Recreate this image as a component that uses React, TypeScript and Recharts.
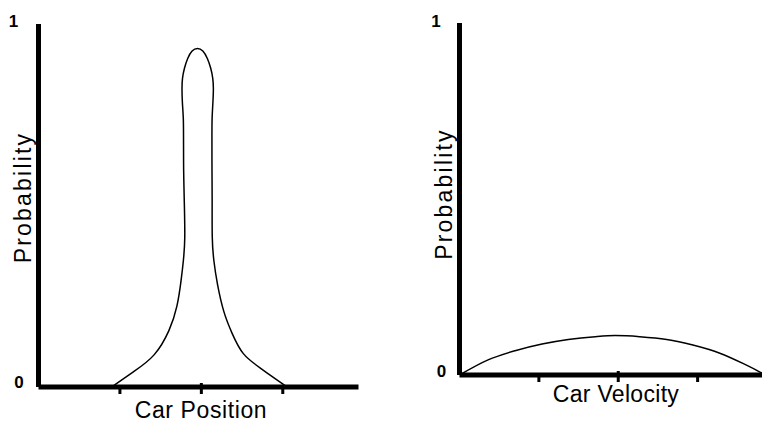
import { LineChart, Line, XAxis, YAxis, Label } from "recharts";

// Car position distribution (left panel), traced as one outline
const positionX = [
  0.9, 1.166, 1.433, 1.617, 1.707, 1.753, 1.781, 1.802, 1.79, 1.781, 1.781, 1.781, 1.765, 1.761, 1.765, 1.79, 1.83, 1.884, 1.953,
  2.02, 2.076, 2.118, 2.143, 2.15, 2.143, 2.13, 2.13, 2.13, 2.134, 2.13, 2.15, 2.192, 2.273, 2.376, 2.499, 2.724, 3.053,
];
const positionP = [
  0, 0.042, 0.083, 0.157, 0.221, 0.295, 0.35, 0.405, 0.515, 0.598, 0.694, 0.74, 0.786, 0.823, 0.85, 0.878, 0.906, 0.928, 0.935,
  0.928, 0.906, 0.878, 0.85, 0.823, 0.786, 0.74, 0.694, 0.598, 0.515, 0.405, 0.35, 0.286, 0.203, 0.148, 0.088, 0.052, 0,
];

// Car velocity distribution (right panel)
const velocityX = [0, 0.36, 0.7, 1.04, 1.37, 1.71, 1.96, 2.27, 2.61, 2.94, 3.28, 3.57, 3.78, 3.85];
const velocityP = [0, 0.043, 0.069, 0.088, 0.101, 0.109, 0.112, 0.109, 0.101, 0.085, 0.062, 0.033, 0.009, 0];

const xTicks = [1, 2, 3];
const yTicks = [0, 1];
const yTickLabels = ["0", "1"];

const FONT = '"Liberation Sans", Arial, Helvetica, sans-serif';

const positionData = positionX.map((x, i) => ({ x, p: positionP[i] }));
const velocityData = velocityX.map((x, i) => ({ x, p: velocityP[i] }));

const XTickMark = (props: any) => {
  const { x, y, payload } = props;
  const mid = payload.value === 2;
  return <rect x={x - 1.5} y={mid ? y - 6 : y} width={3} height={mid ? 11 : 5} fill="#000" />;
};

// small per-label nudges, the labels in the picture are not quite aligned
const makeYTick = (offsets: Record<number, [number, number]>) => (props: any) => {
  const { x, y, payload } = props;
  const [dx, dy] = offsets[payload.value];
  return (
    <text x={x + dx} y={y + dy} textAnchor="middle" fontFamily={FONT} fontSize={17} fontWeight="bold" fill="#000">
      {yTickLabels[yTicks.indexOf(payload.value)]}
    </text>
  );
};

const leftYTick = makeYTick({ 1: [-23, 3], 0: [-17.5, 1] });
const rightYTick = makeYTick({ 1: [-21.5, 4], 0: [-16, 2] });

const title = (text: string, x: number, y: number, spacing: number, rotate = false) => () => (
  <text
    x={x}
    y={y}
    textAnchor="middle"
    fontFamily={FONT}
    fontSize={23}
    letterSpacing={spacing}
    fill="#000"
    transform={rotate ? `rotate(-90, ${x}, ${y})` : undefined}
  >
    {text}
  </text>
);

const axisLine = { stroke: "#000", strokeWidth: 5 };

const App = () => {
  return (
    <div style={{ position: "absolute", left: 0, top: 0, width: 762, height: 422, overflow: "hidden", background: "#fff" }}>
      <div style={{ position: "absolute", left: 0, top: 0 }}>
        <LineChart width={380} height={422} data={positionData} margin={{ top: 24, right: 21.5, bottom: 0, left: 0 }}>
          <XAxis
            dataKey="x"
            type="number"
            domain={[0, 3.93]}
            ticks={xTicks}
            height={35}
            axisLine={axisLine}
            tickLine={false}
            tickSize={0}
            tick={<XTickMark />}
            allowDataOverflow
          >
            <Label content={title("Car Position", 201, 418, 0.6)} />
          </XAxis>
          <YAxis
            type="number"
            domain={[0, 1]}
            ticks={yTicks}
            width={38.5}
            axisLine={axisLine}
            tickLine={false}
            tickSize={0}
            tick={leftYTick}
          >
            <Label content={title("Probability", 30.5, 197.5, 2.2, true)} />
          </YAxis>
          <Line
            dataKey="p"
            type="basis"
            stroke="#000"
            strokeWidth={1.5}
            dot={false}
            isAnimationActive={false}
          />
        </LineChart>
      </div>
      <div style={{ position: "absolute", left: 421, top: 0 }}>
        <LineChart width={356} height={422} data={velocityData} margin={{ top: 23, right: 0, bottom: 0, left: 0 }}>
          <XAxis
            dataKey="x"
            type="number"
            domain={[0, 4]}
            ticks={xTicks}
            height={47}
            axisLine={axisLine}
            tickLine={false}
            tickSize={0}
            tick={<XTickMark />}
            allowDataOverflow
          >
            <Label content={title("Car Velocity", 195, 402, 0.3)} />
          </XAxis>
          <YAxis
            type="number"
            domain={[0, 1]}
            ticks={yTicks}
            width={38.5}
            axisLine={axisLine}
            tickLine={false}
            tickSize={0}
            tick={rightYTick}
          >
            <Label content={title("Probability", 31, 194, 2.2, true)} />
          </YAxis>
          <Line
            dataKey="p"
            type="monotone"
            stroke="#000"
            strokeWidth={1.5}
            dot={false}
            isAnimationActive={false}
          />
        </LineChart>
      </div>
    </div>
  );
};

export default App;
